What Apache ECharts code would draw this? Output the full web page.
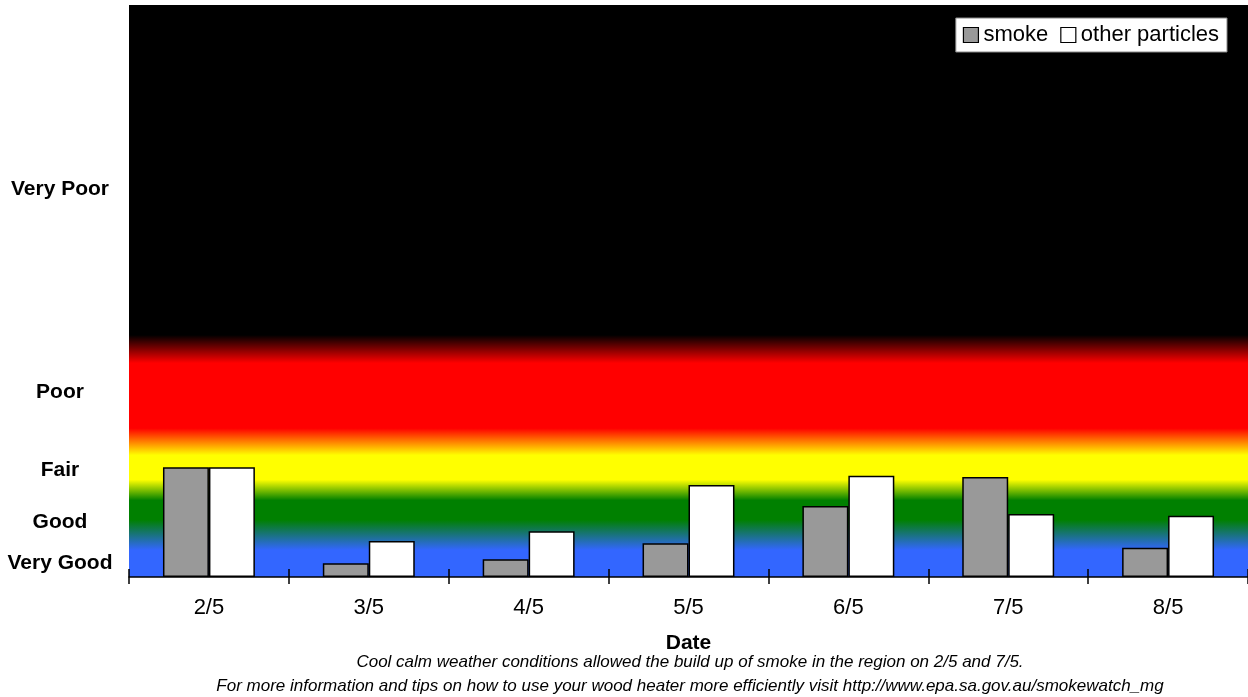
<!DOCTYPE html>
<html><head><meta charset="utf-8">
<script src="https://cdn.jsdelivr.net/npm/echarts@6/dist/echarts.min.js"></script>
<style>html,body{margin:0;padding:0;background:#fff}#c{width:1248px;height:697px}</style>
</head><body><div id="c"></div>
<script>
const categories = ['2/5','3/5','4/5','5/5','6/5','7/5','8/5'];
const smoke = [19.2, 2.4, 3.1, 5.9, 12.4, 17.5, 5.1];
const otherParticles = [19.2, 6.3, 8.0, 16.1, 17.7, 11.0, 10.7];
const levelValues = [2.45, 9.65, 18.65, 32.35, 67.85];
const levelLabels = ['Very Good', 'Good', 'Fair', 'Poor', 'Very Poor'];
const footnote1 = 'Cool calm weather conditions allowed the build up of smoke in the region on 2/5 and 7/5.';
const footnote2 = 'For more information and tips on how to use your wood heater more efficiently visit http://www.epa.sa.gov.au/smokewatch_mg';

const chart = echarts.init(document.getElementById('c'));
const bg = new echarts.graphic.LinearGradient(0, 0, 0, 1, [
  {offset: 0, color: '#000000'},
  {offset: 0.577, color: '#000000'},
  {offset: 0.626, color: '#ff0000'},
  {offset: 0.740, color: '#ff0000'},
  {offset: 0.787, color: '#ffff00'},
  {offset: 0.830, color: '#ffff00'},
  {offset: 0.866, color: '#008000'},
  {offset: 0.900, color: '#008000'},
  {offset: 0.953, color: '#3366ff'},
  {offset: 1, color: '#3366ff'}
]);
const labelMap = {};
levelValues.forEach((v, i) => { labelMap[v] = levelLabels[i]; });

chart.setOption({
  animation: false,
  textStyle: {fontFamily: 'Liberation Sans, Arial, sans-serif'},
  grid: {left: 129, right: 0, top: 5, bottom: 120, show: true, backgroundColor: bg, borderWidth: 0},
  title: {
    text: footnote1 + '\n' + footnote2,
    left: 690, top: 650, textAlign: 'center', padding: 0,
    textStyle: {fontStyle: 'italic', fontWeight: 'normal', fontSize: 17, color: '#000', lineHeight: 24}
  },
  legend: {
    right: 21, top: 18,
    backgroundColor: '#fff', borderColor: '#888', borderWidth: 1,
    padding: [6, 8, 6, 7],
    itemWidth: 15, itemHeight: 15, itemGap: 12,
    textStyle: {fontSize: 22, color: '#000'},
    data: [
      {name: 'smoke', icon: 'rect', itemStyle: {color: '#999', borderColor: '#000', borderWidth: 1.2}},
      {name: 'other particles', icon: 'rect', itemStyle: {color: '#fff', borderColor: '#000', borderWidth: 1.2}}
    ]
  },
  xAxis: [{
    type: 'category', data: categories,
    name: 'Date', nameLocation: 'middle', nameGap: 56,
    nameTextStyle: {fontSize: 21, fontWeight: 'bold', color: '#000'},
    axisLine: {show: true, lineStyle: {color: '#000', width: 1.5}},
    axisTick: {show: true, length: 7, lineStyle: {color: '#000', width: 1.5}},
    axisLabel: {fontSize: 22, color: '#000', margin: 20}
  }, {
    type: 'category', data: categories, position: 'bottom', offset: 0,
    axisLine: {show: false},
    axisTick: {show: true, inside: true, length: 8, lineStyle: {color: '#000', width: 1.5}},
    axisLabel: {show: false}
  }],
  yAxis: {
    type: 'value', min: 0, max: 100,
    splitLine: {show: false}, axisLine: {show: false}, axisTick: {show: false},
    axisLabel: {
      customValues: levelValues,
      formatter: v => labelMap[v] || '',
      fontSize: 21, fontWeight: 'bold', color: '#000', align: 'center', margin: 69
    }
  },
  series: [
    {name: 'smoke', type: 'bar', data: smoke, barGap: '0%', barCategoryGap: '42.5%',
     itemStyle: {color: '#999', borderColor: '#000', borderWidth: 1.5}},
    {name: 'other particles', type: 'bar', data: otherParticles,
     itemStyle: {color: '#fff', borderColor: '#000', borderWidth: 1.5}}
  ]
});
</script></body></html>
